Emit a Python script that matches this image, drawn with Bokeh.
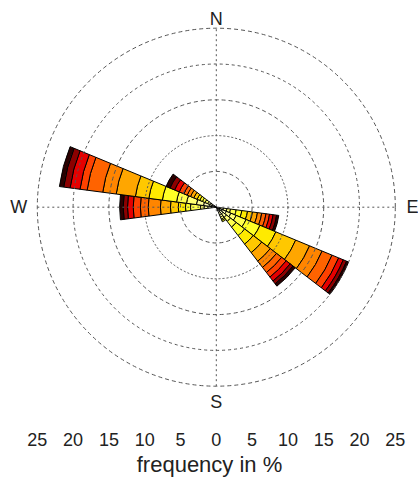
import numpy as np
from bokeh.plotting import figure
from bokeh.models import FixedTicker, ColumnDataSource
from bokeh.core.properties import value
from bokeh.embed import file_html
from bokeh.resources import INLINE

# ---- data ----
# direction bins (degrees, clockwise from north), 15 degree sectors
directions = [105, 120, 135, 150, 270, 285, 300]
sector_width = 15
# frequency (%) per speed class, lowest speed first (16 classes)
freq_105 = [0.3, 0.3, 0.4, 0.5, 0.5, 0.8, 0.8, 0.8, 0.7, 0.7, 0.6, 0.6, 0.5, 0.5, 0.5, 0.3]
freq_120 = [0.4, 0.5, 0.6, 0.7, 0.8, 1.5, 2.1, 2.4, 3.0, 2.1, 1.9, 1.5, 1.0, 0.7, 0.5, 0.3]
freq_135 = [0.3, 0.4, 0.5, 0.6, 0.7, 1.0, 1.5, 1.5, 1.5, 1.5, 1.1, 0.9, 0.8, 0.7, 0.5, 0.4]
freq_150 = [0.4, 0.4, 0.4, 0.3, 0.3, 0.2, 0.2, 0.0, 0.0, 0.0, 0.0, 0.0, 0.0, 0.0, 0.0, 0.0]
freq_270 = [0.3, 0.4, 0.5, 0.5, 0.5, 1.4, 0.7, 1.0, 1.1, 1.4, 1.7, 1.1, 1.0, 0.8, 0.6, 0.5]
freq_285 = [0.4, 0.6, 0.8, 1.0, 1.4, 1.4, 2.0, 1.9, 1.9, 2.7, 1.9, 2.2, 1.0, 1.4, 0.9, 0.6]
freq_300 = [0.4, 0.3, 0.3, 0.3, 0.4, 0.4, 0.4, 0.4, 0.5, 0.5, 0.5, 0.5, 0.7, 0.7, 0.7, 0.6]
all_freqs = [freq_105, freq_120, freq_135, freq_150, freq_270, freq_285, freq_300]

grid_radii = [5, 10, 15, 20, 25]
tick_values = [-25, -20, -15, -10, -5, 0, 5, 10, 15, 20, 25]
tick_labels = ["25", "20", "15", "10", "5", "0", "5", "10", "15", "20", "25"]
compass_labels = ["N", "E", "S", "W"]
compass_bearings = [0, 90, 180, 270]

# ---- styles ----
palette = ["#ffffff", "#ffffe6", "#ffffbf", "#ffff99", "#ffff73", "#ffff4d",
           "#ffff26", "#ffea00", "#ffc800", "#ffa600", "#ff8500", "#ff6300",
           "#ff4100", "#e60000", "#8c0000", "#2b0000"]
grid_dashes = ["4 3", "2 2", "4 3", "3 3", "4 3"]
label_radius = [26.3, 27.4, 27.2, 27.6]

scale = 7.16  # px per percent
cx, cy = 215.8, 206.7
fw, fh = 418, 423

p = figure(frame_width=fw, frame_height=fh,
           x_range=(-cx / scale, (fw - cx) / scale),
           y_range=(-(fh - cy) / scale, cy / scale),
           output_backend="svg", toolbar_location=None,
           y_axis_location=None, min_border=0)
p.grid.visible = False
p.outline_line_color = None
p.background_fill_color = "white"

# wedges
inner, outer, start, end, colors = [], [], [], [], []
for d, fr in zip(directions, all_freqs):
    cum = 0.0
    a0 = np.deg2rad(90 - d - sector_width / 2)
    a1 = np.deg2rad(90 - d + sector_width / 2)
    for k, f in enumerate(fr):
        if f <= 0:
            continue
        inner.append(cum)
        outer.append(cum + f)
        start.append(a0)
        end.append(a1)
        colors.append(palette[k])
        cum += f
src = ColumnDataSource(dict(ir=inner, orr=outer, sa=start, ea=end, c=colors,
                            x=[0] * len(inner), y=[0] * len(inner)))
p.annular_wedge(x="x", y="y", inner_radius="ir", outer_radius="orr",
                start_angle="sa", end_angle="ea", fill_color="c",
                line_color="black", line_width=1, source=src)

# grid circles
for r, dash in zip(grid_radii, grid_dashes):
    p.circle(x=[0], y=[0], radius=r, fill_color=None, line_color="#555555",
             line_dash=dash, line_width=1)

# cross lines
R = grid_radii[-1]
p.segment(x0=[-R, 0], y0=[0, -R], x1=[R, 0], y1=[0, R],
          line_color="#555555", line_dash="2 3", line_width=1)

# compass labels
lx = [r * np.sin(np.deg2rad(b)) for r, b in zip(label_radius, compass_bearings)]
ly = [r * np.cos(np.deg2rad(b)) for r, b in zip(label_radius, compass_bearings)]
p.text(x=lx, y=ly, text=compass_labels, text_align="center",
       text_baseline="middle", text_font=value("Liberation Sans"),
       text_font_size="18px", text_color="#222222")

# bottom axis
ax = p.xaxis[0]
ax.ticker = FixedTicker(ticks=tick_values)
ax.major_label_overrides = {t: l for t, l in zip(tick_values, tick_labels)}
ax.axis_line_color = None
ax.major_tick_line_color = None
ax.minor_tick_line_color = None
ax.major_label_standoff = 3
ax.major_label_text_font = "Liberation Sans"
ax.major_label_text_font_size = "18px"
ax.major_label_text_color = "#222222"
ax.axis_label = "frequency in %"
ax.axis_label_text_font = "Liberation Sans"
ax.axis_label_text_font_style = "normal"
ax.axis_label_text_font_size = "22px"
ax.axis_label_text_color = "#222222"
ax.axis_label_standoff = 3

open("out.html", "w").write(file_html(p, INLINE))
